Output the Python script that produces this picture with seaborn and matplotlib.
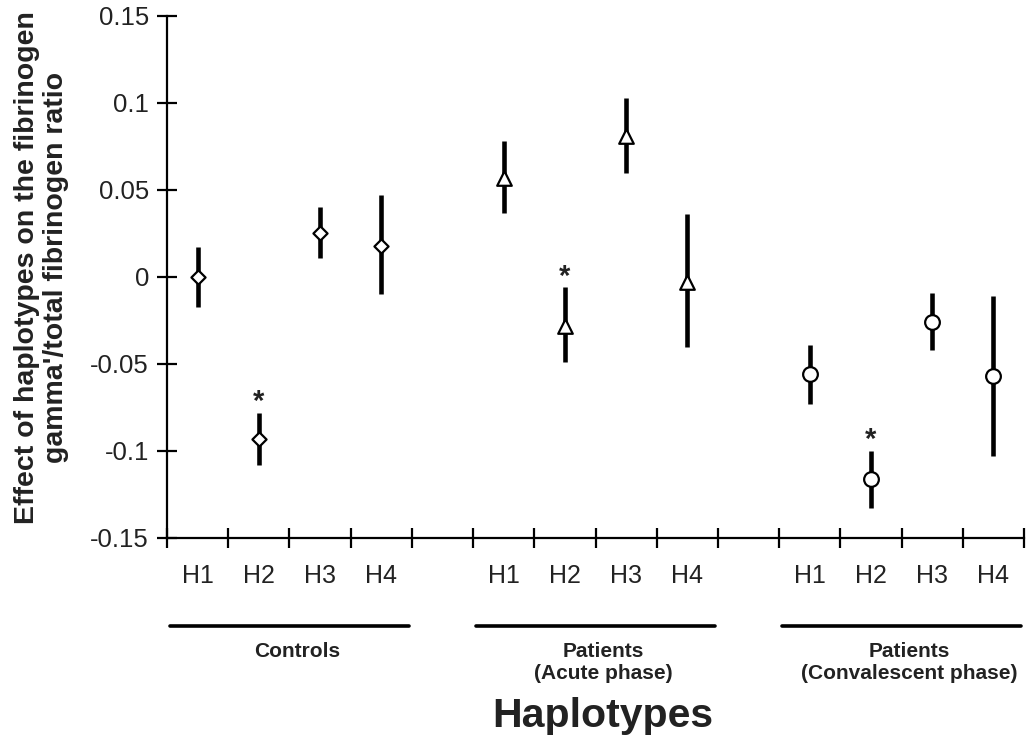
import numpy as np
import pandas as pd
import matplotlib
matplotlib.use("Agg")
import matplotlib.pyplot as plt
import matplotlib.transforms as mtransforms
import seaborn as sns

# ---- data ----
haplotypes = ["H1", "H2", "H3", "H4"]
group_names = ["Controls", "Patients\n(Acute phase)", "Patients\n(Convalescent phase)"]
group_markers = ["D", "^", "o"]
group_sizes = [52, 110, 112]

controls_est = [0.000, -0.093, 0.025, 0.018]
controls_lo = [-0.017, -0.108, 0.011, -0.010]
controls_hi = [0.017, -0.078, 0.040, 0.047]

acute_est = [0.057, -0.028, 0.081, -0.003]
acute_lo = [0.037, -0.049, 0.060, -0.040]
acute_hi = [0.078, -0.006, 0.103, 0.036]

conv_est = [-0.056, -0.116, -0.026, -0.057]
conv_lo = [-0.073, -0.133, -0.042, -0.103]
conv_hi = [-0.039, -0.100, -0.009, -0.011]

significant = ["H2"]  # marked with * in every group

yticks = [-0.15, -0.1, -0.05, 0, 0.05, 0.1, 0.15]
ytick_labels = ["-0.15", "-0.1", "-0.05", "0", "0.05", "0.1", "0.15"]

# ---- build a long table ----
rows = []
est_all = [controls_est, acute_est, conv_est]
lo_all = [controls_lo, acute_lo, conv_lo]
hi_all = [controls_hi, acute_hi, conv_hi]
for g, name in enumerate(group_names):
    for h, hap in enumerate(haplotypes):
        rows.append({
            "group": name,
            "haplotype": hap,
            "pos": g * (len(haplotypes) + 1) + h,
            "est": est_all[g][h],
            "lo": lo_all[g][h],
            "hi": hi_all[g][h],
        })
df = pd.DataFrame(rows)

sns.set_theme(style="white")
plt.rcParams["font.family"] = ["Liberation Sans", "DejaVu Sans"]
plt.rcParams["axes.unicode_minus"] = False

fig = plt.figure(figsize=(10.26, 7.4), dpi=100)
ax = fig.add_axes([0.1628, 0.2730, 0.8353, 0.7054])

# error bars first, markers on top
ax.vlines(df["pos"], df["lo"], df["hi"], color="black", linewidth=3.3, zorder=2)
for name, mk, sz in zip(group_names, group_markers, group_sizes):
    sub = df[df["group"] == name]
    sns.scatterplot(data=sub, x="pos", y="est", marker=mk, s=sz,
                    color="white", edgecolor="black", linewidth=1.6,
                    zorder=3, ax=ax, legend=False)

# significance stars
for _, r in df[df["haplotype"].isin(significant)].iterrows():
    ax.annotate("*", xy=(r["pos"], r["hi"]), xytext=(0, 2),
                textcoords="offset points", ha="center", va="baseline",
                fontsize=21, fontweight="bold", color="#222222")

n_pos = len(group_names) * (len(haplotypes) + 1) - 1
ax.set_xlim(-0.5, n_pos - 0.5)
ax.set_ylim(-0.15, 0.15)

# ticks: boundaries as major, haplotype labels as minor
ax.set_xticks(np.arange(-0.5, n_pos, 1.0))
ax.set_xticklabels([])
ax.set_xticks(df["pos"], labels=df["haplotype"], minor=True)
ax.tick_params(axis="x", which="major", bottom=True, direction="inout",
               length=14, width=1.6, color="black")
ax.tick_params(axis="x", which="minor", bottom=True, length=0, pad=19,
               labelsize=18, labelcolor="#222222")
ax.set_yticks(yticks, labels=ytick_labels)
ax.tick_params(axis="y", left=True, direction="inout", length=14, width=1.6,
               color="black", pad=6, labelsize=18.5, labelcolor="#222222")

for side in ["top", "right"]:
    ax.spines[side].set_visible(False)
for side in ["left", "bottom"]:
    ax.spines[side].set_color("black")
    ax.spines[side].set_linewidth(1.6)
ax.set_xlabel("")
ax.set_ylabel("")

# group underlines and names below the axis
trans = mtransforms.blended_transform_factory(ax.transData, fig.transFigure)
for g, name in enumerate(group_names):
    sub = df[df["group"] == name]
    x0, x1 = sub["pos"].min() - 0.45, sub["pos"].max() + 0.45
    ax.plot([x0, x1], [0.154, 0.154], color="black", linewidth=2.6,
            transform=trans, clip_on=False)
    ax.text(sub["pos"].mean() + 0.12, 0.133, name, transform=trans,
            ha="center", va="top", fontsize=15, fontweight="bold",
            linespacing=1.25, color="#222222")

fig.text(0.587, 0.032, "Haplotypes", ha="center", va="center",
         fontsize=29.5, fontweight="bold", color="#222222")
fig.text(0.040, 0.638,
         "Effect of haplotypes on the fibrinogen\ngamma'/total fibrinogen ratio",
         rotation=90, ha="center", va="center", multialignment="center",
         fontsize=20.5, fontweight="bold", linespacing=1.15, color="#222222")

fig.savefig("out.png", dpi=100)
